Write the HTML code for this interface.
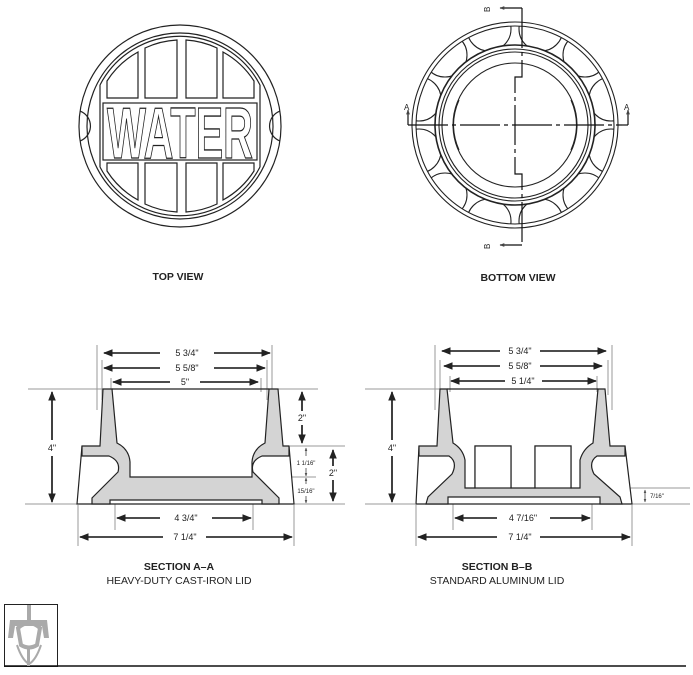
<!DOCTYPE html>
<html><head><meta charset="utf-8"><style>
html,body{margin:0;padding:0;background:#fff;}
svg{display:block;font-family:"Liberation Sans",sans-serif;}
</style></head><body>
<svg width="693" height="675" viewBox="0 0 693 675" xmlns="http://www.w3.org/2000/svg">
<defs>
<marker id="ah" viewBox="0 0 10 10" refX="9" refY="5" markerWidth="6" markerHeight="6" orient="auto-start-reverse"><path d="M0,1 L10,5 L0,9 z" fill="#222"/></marker>
<marker id="as" viewBox="0 0 10 10" refX="9" refY="5" markerWidth="4" markerHeight="4" orient="auto-start-reverse"><path d="M0,1 L10,5 L0,9 z" fill="#444"/></marker>
<clipPath id="annulus"><path d="M515,125 m-99,0 a99,99 0 1,0 198,0 a99,99 0 1,0 -198,0 M515,125 m-80,0 a80,80 0 1,1 160,0 a80,80 0 1,1 -160,0" clip-rule="evenodd"/></clipPath>
</defs>

<!-- TOP VIEW -->
<g fill="none" stroke="#222" stroke-width="1.2">
<circle cx="180" cy="126" r="101" fill="#fff"/>
<circle cx="180" cy="126" r="93"/>
<path d="M80,111 A16,16 0 0 1 80,141" />
<path d="M280,111 A16,16 0 0 0 280,141" />
<path d="M100,85 A90,90 0 0 1 260,85 M100,167 A90,90 0 0 0 260,167 M100,85 L100,167 M260,85 L260,167"/>
<path d="M107,98 L107,81 A86,86 0 0 1 138,52 L138,98 Z"/>
<path d="M145,98 L145,48 A86,86 0 0 1 177,40 L177,98 Z"/>
<path d="M186,98 L186,40 A86,86 0 0 1 217,48 L217,98 Z"/>
<path d="M223,98 L223,52 A86,86 0 0 1 254,81 L254,98 Z"/>
<path d="M107,163 L107,171 A86,86 0 0 0 138,200 L138,163 Z"/>
<path d="M145,163 L145,204 A86,86 0 0 0 177,212 L177,163 Z"/>
<path d="M186,163 L186,212 A86,86 0 0 0 217,204 L217,163 Z"/>
<path d="M223,163 L223,200 A86,86 0 0 0 254,171 L254,163 Z"/>
<rect x="103" y="103" width="154" height="57"/>
</g>
<text x="180" y="158" text-anchor="middle" font-size="72" font-weight="bold" textLength="146" lengthAdjust="spacingAndGlyphs" fill="#fff" stroke="#222" stroke-width="1.3">WATER</text>
<text x="178" y="280" text-anchor="middle" font-size="10.5" font-weight="bold" fill="#222">TOP VIEW</text>

<!-- BOTTOM VIEW -->
<g fill="none" stroke="#222" stroke-width="1.1">
<circle cx="515" cy="125" r="103"/>
<circle cx="515" cy="125" r="99"/>
<circle cx="515" cy="125" r="80" stroke-width="1.6"/>
<circle cx="515" cy="125" r="76"/>
<circle cx="515" cy="125" r="73"/>
<circle cx="515" cy="125" r="62"/>
<g clip-path="url(#annulus)">
<circle cx="541" cy="29" r="22"/><circle cx="489" cy="29" r="22"/>
<circle cx="585" cy="55" r="22"/><circle cx="445" cy="55" r="22"/>
<circle cx="611" cy="99" r="22"/><circle cx="419" cy="99" r="22"/>
<circle cx="611" cy="151" r="22"/><circle cx="419" cy="151" r="22"/>
<circle cx="585" cy="195" r="22"/><circle cx="445" cy="195" r="22"/>
<circle cx="541" cy="221" r="22"/><circle cx="489" cy="221" r="22"/>
</g>
<path d="M459,100 Q448,125 459,150 M571,100 Q582,125 571,150"/>
</g>
<g fill="none" stroke="#111" stroke-width="1.2">
<path d="M408,125 L622,125" stroke-dasharray="40,4,4,4"/>
<path d="M522,8 L522,77 L515,77 L515,174 L522,174 L522,245" stroke-dasharray="40,4,4,4"/>
<path d="M522,8 L500,8" marker-end="url(#as)"/>
<path d="M522,245 L500,245" marker-end="url(#as)"/>
<path d="M408,125 L408,110" marker-end="url(#as)"/>
<path d="M628,125 L628,110" marker-end="url(#as)"/>
<path d="M622,125 L628,125"/>
</g>
<text x="0" y="0" font-size="8" fill="#222" transform="translate(490,12) rotate(-90)">B</text>
<text x="0" y="0" font-size="8" fill="#222" transform="translate(490,249) rotate(-90)">B</text>
<text x="404" y="110" font-size="8" fill="#222">A</text>
<text x="624" y="110" font-size="8" fill="#222">A</text>
<text x="518" y="281" text-anchor="middle" font-size="10.5" font-weight="bold" fill="#222">BOTTOM VIEW</text>

<!-- SECTION A-A -->
<g stroke="#999" stroke-width="1" fill="none">
<path d="M28,389 L318,389 M25,504 L345,504 M290,446 L345,446 M240,477 L316,477"/>
<path d="M97,345 L97,410 M272,345 L272,410 M102,360 L102,400 M267,360 L267,400 M111,378 L111,392 M261,378 L261,392"/>
<path d="M115,470 L115,530 M253,470 L253,530 M78,505 L78,546 M294,505 L294,546"/>
</g>
<path d="M82,446 L77,504 L294,504 L289,446" fill="#fff" stroke="#222" stroke-width="1.2"/>
<path d="M103,389 L112,389 L117,443 Q129,449 130,462 L130,477 L252,477 L252,462 Q253,449 265,443 L269,389 L278,389 L283,446 L289,446 L289,456 L262,456 Q250,461 253,472 L279,498 L279,504 L262,504 L262,500 L110,500 L110,504 L92,504 L92,498 L118,472 Q121,461 109,456 L82,456 L82,446 L100,446 Z" fill="#d4d4d4" stroke="#222" stroke-width="1.2"/>
<path d="M112,389 L269,389" stroke="#222" stroke-width="1.2"/>
<g stroke="#111" stroke-width="1.6" fill="none">
<path d="M104,353 L160,353 M214,353 L270,353" marker-start="url(#ah)" marker-end="url(#ah)"/>
<path d="M104,368 L160,368 M214,368 L265,368" marker-start="url(#ah)" marker-end="url(#ah)"/>
<path d="M113,382 L170,382 M200,382 L258,382" marker-start="url(#ah)" marker-end="url(#ah)"/>
<path d="M302,392 L302,411 M302,425 L302,443" marker-start="url(#ah)" marker-end="url(#ah)"/>
<path d="M333,450 L333,466 M333,480 L333,501" marker-start="url(#ah)" marker-end="url(#ah)"/>
<path d="M52,392 L52,440 M52,456 L52,502" marker-start="url(#ah)" marker-end="url(#ah)"/>
<path d="M117,518 L160,518 M212,518 L251,518" marker-start="url(#ah)" marker-end="url(#ah)"/>
<path d="M80,537 L163,537 M206,537 L292,537" marker-start="url(#ah)" marker-end="url(#ah)"/>
</g>
<g stroke="#444" stroke-width="0.8" fill="none">
<path d="M306,448 L306,456 M306,468 L306,476" marker-start="url(#as)" marker-end="url(#as)"/>
<path d="M306,478 L306,484 M306,496 L306,503" marker-start="url(#as)" marker-end="url(#as)"/>
</g>
<g fill="#222" font-size="9" text-anchor="middle">
<text x="187" y="356">5 3/4"</text>
<text x="187" y="371">5 5/8"</text>
<text x="185" y="385">5"</text>
<text x="302" y="421">2"</text>
<text x="333" y="476">2"</text>
<text x="52" y="451">4"</text>
<text x="186" y="521">4 3/4"</text>
<text x="185" y="540">7 1/4"</text>
<text x="306" y="465" font-size="6">1 1/16"</text>
<text x="306" y="493" font-size="6">15/16"</text>
</g>
<text x="179" y="570" text-anchor="middle" font-size="10.5" font-weight="bold" fill="#222">SECTION A–A</text>
<text x="179" y="584" text-anchor="middle" font-size="10.5" fill="#222">HEAVY-DUTY CAST-IRON LID</text>

<!-- SECTION B-B -->
<g stroke="#999" stroke-width="1" fill="none">
<path d="M365,389 L445,389 M365,504 L415,504 M630,488 L690,488 M630,504 L690,504"/>
<path d="M435,345 L435,410 M612,345 L612,410 M440,360 L440,395 M608,360 L608,395 M450,376 L450,392 M597,376 L597,392"/>
<path d="M453,460 L453,530 M592,460 L592,530 M416,505 L416,546 M632,505 L632,546"/>
</g>
<path d="M419,446 L416,504 L632,504 L625,446" fill="#fff" stroke="#222" stroke-width="1.2"/>
<path d="M440,389 L447,389 L453,443 Q463,449 465,460 L465,488 L475,488 L475,446 L511,446 L511,488 L535,488 L535,446 L571,446 L571,488 L580,488 L580,460 Q583,449 593,443 L598,389 L605,389 L610,446 L625,446 L625,456 L597,456 Q588,462 594,474 L620,497 L622,504 L600,504 L600,497 L448,497 L448,504 L426,504 L428,497 L452,474 Q458,462 449,456 L419,456 L419,446 L437,446 Z" fill="#d4d4d4" stroke="#222" stroke-width="1.2"/>
<rect x="475" y="446" width="36" height="42" fill="#fff" stroke="#222" stroke-width="1.2"/>
<rect x="535" y="446" width="36" height="42" fill="#fff" stroke="#222" stroke-width="1.2"/>
<path d="M447,389 L598,389" stroke="#222" stroke-width="1.2"/>
<g stroke="#111" stroke-width="1.6" fill="none">
<path d="M442,351 L500,351 M540,351 L606,351" marker-start="url(#ah)" marker-end="url(#ah)"/>
<path d="M444,366 L500,366 M540,366 L602,366" marker-start="url(#ah)" marker-end="url(#ah)"/>
<path d="M451,381 L505,381 M542,381 L596,381" marker-start="url(#ah)" marker-end="url(#ah)"/>
<path d="M392,392 L392,440 M392,456 L392,502" marker-start="url(#ah)" marker-end="url(#ah)"/>
<path d="M455,518 L497,518 M550,518 L590,518" marker-start="url(#ah)" marker-end="url(#ah)"/>
<path d="M418,537 L497,537 M540,537 L630,537" marker-start="url(#ah)" marker-end="url(#ah)"/>
</g>
<path d="M645,490 L645,502" stroke="#444" stroke-width="0.8" marker-start="url(#as)" marker-end="url(#as)"/>
<g fill="#222" font-size="9" text-anchor="middle">
<text x="520" y="354">5 3/4"</text>
<text x="520" y="369">5 5/8"</text>
<text x="523" y="384">5 1/4"</text>
<text x="392" y="451">4"</text>
<text x="523" y="521">4 7/16"</text>
<text x="520" y="540">7 1/4"</text>
<text x="657" y="498" font-size="6">7/16"</text>
</g>
<text x="497" y="570" text-anchor="middle" font-size="10.5" font-weight="bold" fill="#222">SECTION B–B</text>
<text x="497" y="584" text-anchor="middle" font-size="10.5" fill="#222">STANDARD ALUMINUM LID</text>

<!-- Footer -->
<rect x="4.5" y="604.5" width="53" height="62" fill="none" stroke="#222" stroke-width="1"/>
<path d="M4,666 L686,666" stroke="#111" stroke-width="1.5"/>
<g fill="#aaa" stroke="#aaa">
<rect x="27" y="605" width="4" height="15" stroke="none"/>
<path d="M10,620 L47,620 L49,638 L44,638 L42,626 L15,626 L13,638 L8,638 Z" stroke="none"/>
<path d="M18,628 Q29,618 40,628 L37,645 Q29,650 21,645 Z" fill="none" stroke-width="4"/>
<path d="M17,645 Q22,660 29,664 Q36,660 41,645" fill="none" stroke-width="2"/>
<rect x="27" y="647" width="3" height="19" stroke="none"/>
</g>
</svg>
</body></html>
